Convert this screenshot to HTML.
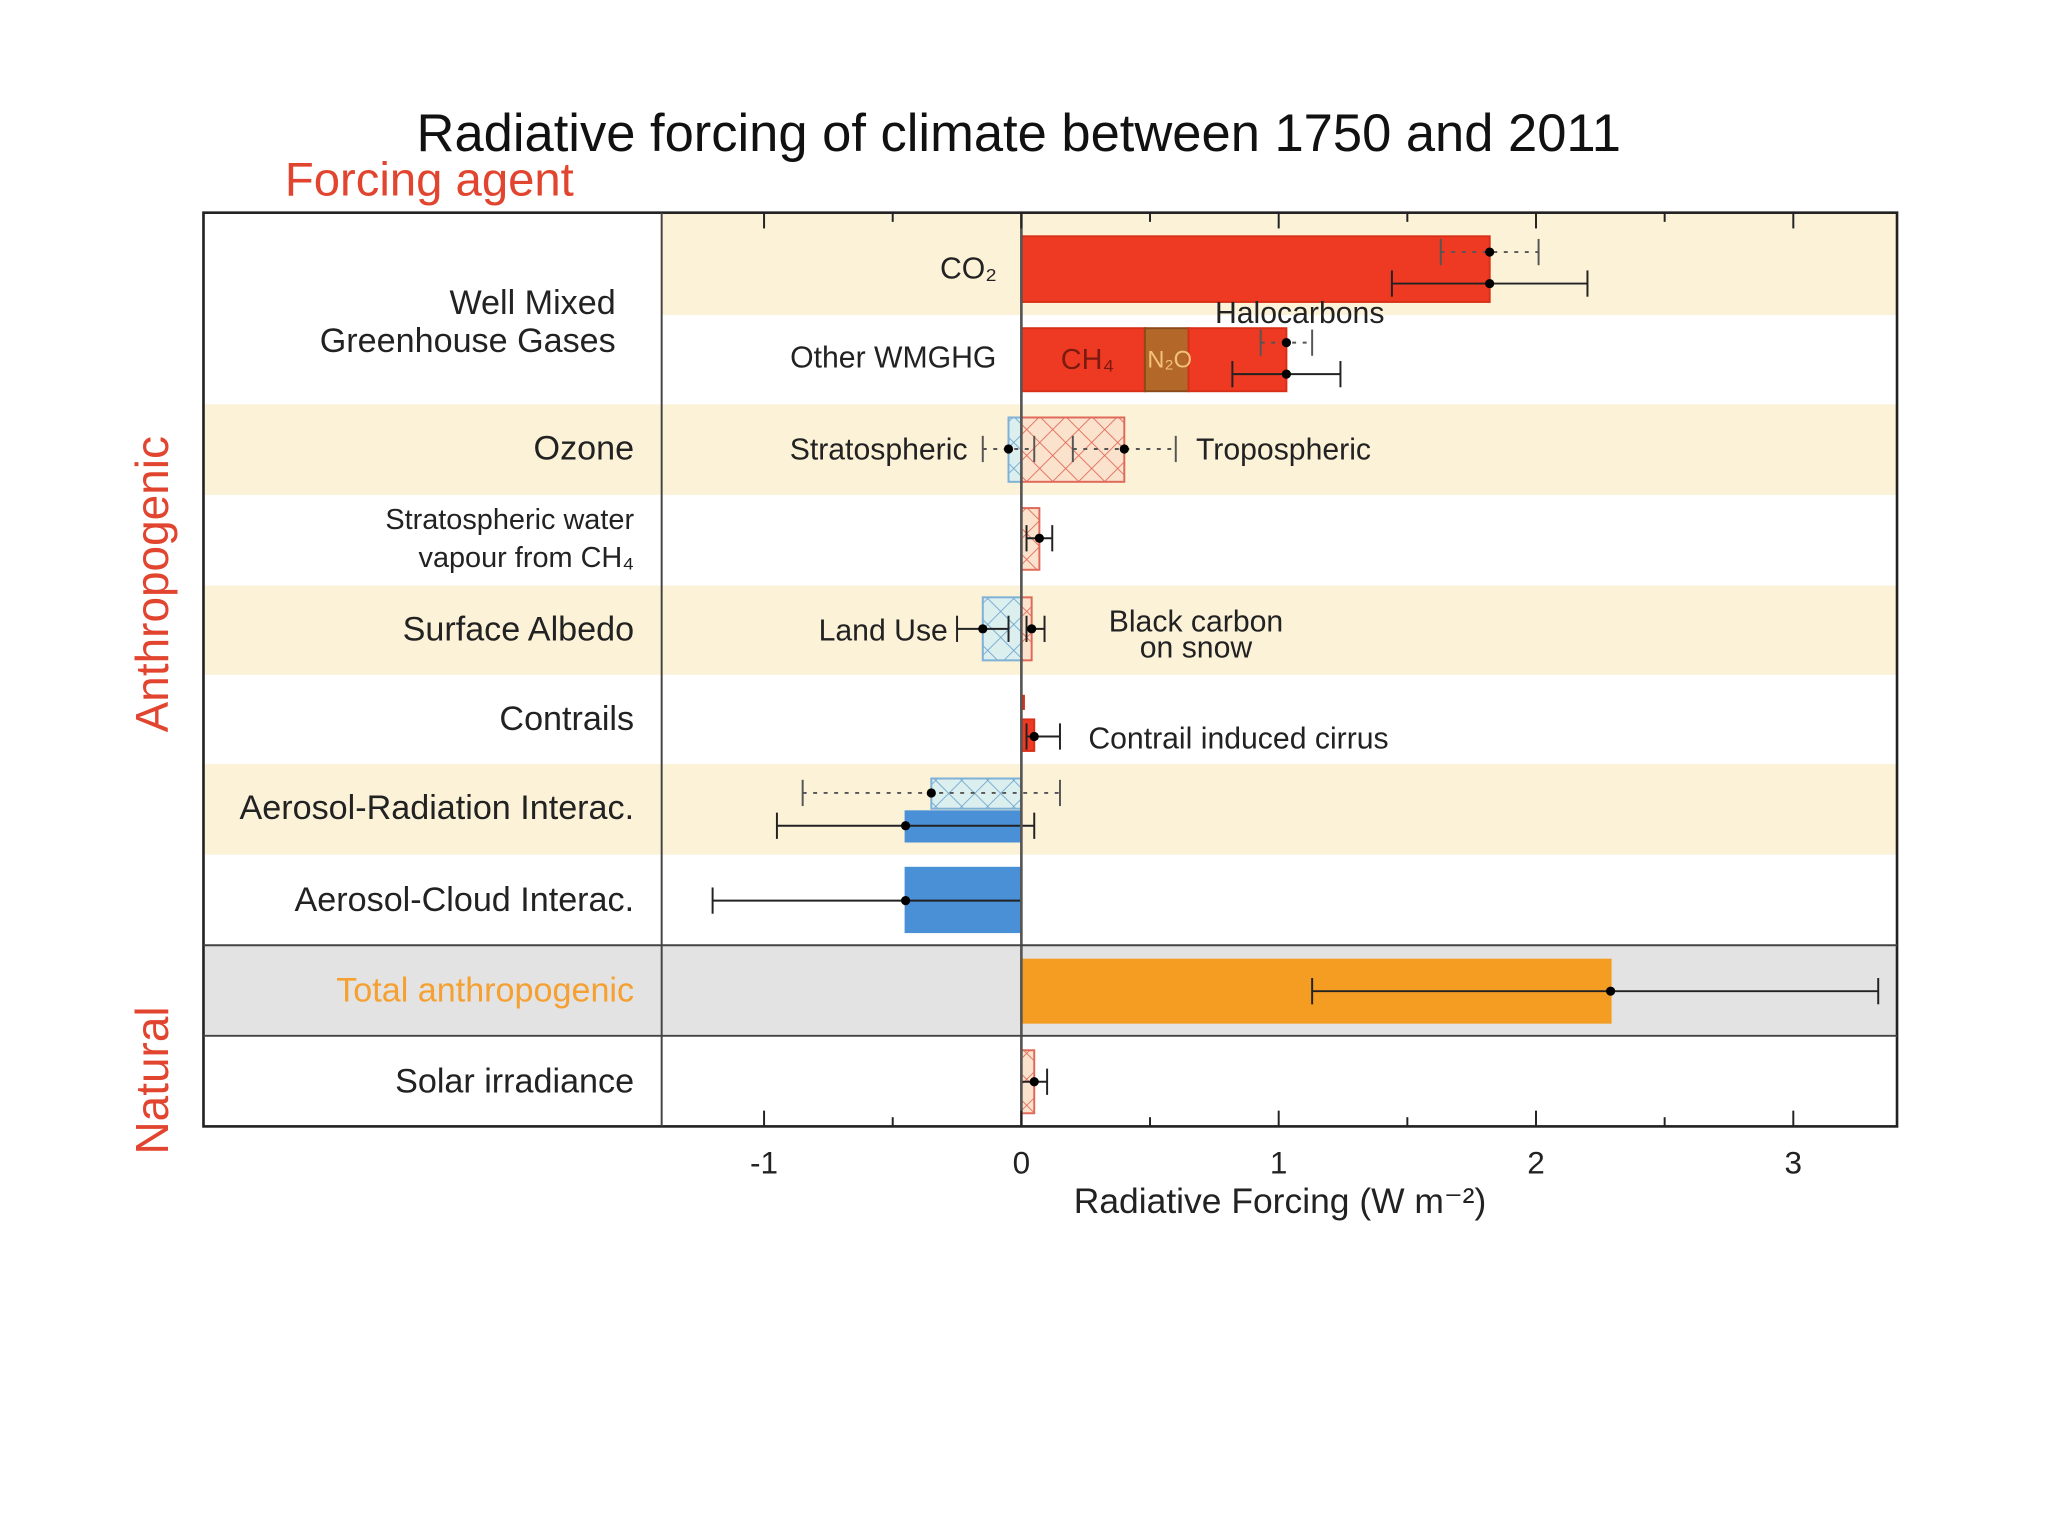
<!DOCTYPE html>
<html><head><meta charset="utf-8"><style>
html,body{margin:0;padding:0;background:#fff;}
svg{display:block;font-family:"Liberation Sans",sans-serif;}
</style></head><body>
<svg id="chart" width="2048" height="1536" viewBox="0 0 1560 1170" preserveAspectRatio="none" xmlns="http://www.w3.org/2000/svg">
<defs>
<pattern id="hred" patternUnits="userSpaceOnUse" width="14" height="14" patternTransform="rotate(45)">
<rect width="14" height="14" fill="#fbe2cc"/><line x1="0" y1="0" x2="0" y2="14" stroke="#e06a5a" stroke-width="1.3"/><line x1="0" y1="0" x2="14" y2="0" stroke="#e06a5a" stroke-width="1.3"/></pattern>
<pattern id="hblue" patternUnits="userSpaceOnUse" width="14" height="14" patternTransform="rotate(45)">
<rect width="14" height="14" fill="#dcefef"/><line x1="0" y1="0" x2="0" y2="14" stroke="#6fa6cf" stroke-width="1.3"/><line x1="0" y1="0" x2="14" y2="0" stroke="#6fa6cf" stroke-width="1.3"/></pattern>
</defs>
<g id="bands"></g>
<g id="bars"></g>
<g id="errs"></g>
<g id="frame"></g>
<g id="labels"></g>
</svg>
<script>
const NS='http://www.w3.org/2000/svg';
const svg=document.getElementById('chart');
// data
const rowLabels=['Well Mixed|Greenhouse Gases','Ozone','Stratospheric water|vapour from CH₄','Surface Albedo','Contrails','Aerosol-Radiation Interac.','Aerosol-Cloud Interac.','Total anthropogenic','Solar irradiance'];
const barNames=['CO2','CH4','N2O','Halocarbons','Strat ozone','Trop ozone','Strat water','Land use','Black carbon','Contrails','Contrail cirrus','Aerosol-rad (hatched)','Aerosol-rad','Aerosol-cloud','Total','Solar'];
const barStart=[0,0,0.48,0.65,0,0,0,0,0,0,0,0,0,0,0,0];
const barEnd=[1.82,0.48,0.65,1.03,-0.05,0.40,0.07,-0.15,0.04,0.01,0.05,-0.35,-0.45,-0.45,2.29,0.05];
const barTop=[180,250,250,250,318,318,387,455,455,530,548,593,618,661,731,800];
const barBot=[230,298,298,298,367,367,434,503,503,540,572,616,641,710,779,848];
const barStyle=['red','red','n2o','red','hblue','hred','hred','hblue','hred','red','red','hblue','blue','blue','orange','hred'];
const errBest=[1.82,1.82,1.03,1.03,-0.05,0.40,0.07,-0.15,0.04,0.05,-0.35,-0.45,-0.45,2.29,0.05];
const errLow=[1.63,1.44,0.93,0.82,-0.15,0.20,0.02,-0.25,0.02,0.02,-0.85,-0.95,-1.2,1.13,0.00];
const errHigh=[2.01,2.20,1.13,1.24,0.05,0.60,0.12,-0.05,0.09,0.15,0.15,0.05,0.0,3.33,0.10];
const errY=[192,216,261,285,342,342,410,479,479,561,604,629,686,755,824];
const errDotted=[1,0,1,0,1,1,0,0,0,0,1,0,0,0,0];
const tickLabels=['-1','0','1','2','3'];
const tickValues=[-1,0,1,2,3];
const minorTicks=[-1,-0.5,0,0.5,1,1.5,2,2.5,3];

const X=v=>778+v*196;
function el(tag,a,parent,txt){const e=document.createElementNS(NS,tag);for(const k in a)e.setAttribute(k,a[k]);if(txt!==undefined)e.textContent=txt;(parent||svg).appendChild(e);return e;}
const L=155,R=1445,T=162,B=858,D=504;
const bands=document.getElementById('bands');
const bandDefs=[[D,162,240,'#fbf2d8'],[156,308,377,'#fbf2d8'],[156,446,514,'#fbf2d8'],[156,582,651,'#fbf2d8'],[156,720,789,'#e3e3e3']];
bandDefs.forEach(b=>{const r=el('rect',{x:b[0],y:b[1],width:R-b[0],height:b[2]-b[1],fill:b[3]},bands);

});
const bars=document.getElementById('bars');
const fills={red:'#ee3a22',n2o:'#b3682a',hred:'url(#hred)',hblue:'url(#hblue)',blue:'#4a90d6',orange:'#f49d22'};
const strokes={red:'#d83018',n2o:'#8a4a1a',hred:'#e06a5a',hblue:'#7fb0d6',blue:'#4a90d6',orange:'#f49d22'};
barNames.forEach((n,i)=>{const x0=X(Math.min(barStart[i],barEnd[i])),x1=X(Math.max(barStart[i],barEnd[i]));
const r=el('rect',{x:x0,y:barTop[i],width:x1-x0,height:barBot[i]-barTop[i],fill:fills[barStyle[i]],stroke:strokes[barStyle[i]],'stroke-width':1.5},bars);

});
const errs=document.getElementById('errs');
errBest.forEach((b,i)=>{const y=errY[i],c=errDotted[i]?'#555':'#222';
const g=el('g',{},errs);


el('line',{x1:X(errLow[i]),x2:X(errHigh[i]),y1:y,y2:y,stroke:c,'stroke-width':1.5,'stroke-dasharray':errDotted[i]?'3,5':'none'},g);
[errLow[i],errHigh[i]].forEach(v=>el('line',{x1:X(v),x2:X(v),y1:y-10,y2:y+10,stroke:c,'stroke-width':1.5},g));
el('circle',{cx:X(b),cy:y,r:3.5,fill:'#000'},g);});
const fr=document.getElementById('frame');
el('line',{x1:X(0),x2:X(0),y1:T,y2:B,stroke:'#555','stroke-width':2},fr);
el('rect',{x:L,y:T,width:R-L,height:B-T,fill:'none',stroke:'#222','stroke-width':2},fr);
el('line',{x1:D,x2:D,y1:T,y2:B,stroke:'#444','stroke-width':1.5},fr);
el('line',{x1:L,x2:R,y1:720,y2:720,stroke:'#444','stroke-width':1.5},fr);
el('line',{x1:L,x2:R,y1:789,y2:789,stroke:'#444','stroke-width':1.5},fr);
minorTicks.forEach(v=>{const len=Number.isInteger(v)?12:7;
el('line',{x1:X(v),x2:X(v),y1:T,y2:T+len,stroke:'#222','stroke-width':1.5},fr);
el('line',{x1:X(v),x2:X(v),y1:B,y2:B-len,stroke:'#222','stroke-width':1.5},fr);});
tickValues.forEach((v,i)=>{const t=el('text',{x:X(v),y:894,'font-size':24,'text-anchor':'middle',fill:'#222'},fr,tickLabels[i]);

});
const lb=document.getElementById('labels');
function txt(x,y,s,size,anchor,fill,name){const t=el('text',{x:x,y:y,'font-size':size,'text-anchor':anchor||'start',fill:fill||'#222'},lb,s);

return t;}
txt(776,115,'Radiative forcing of climate between 1750 and 2011',40,'middle','#111','chart-title');
txt(217,149,'Forcing agent',36,'start','#e2452f','forcing-agent-heading');
txt(975,924,'Radiative Forcing (W m⁻²)',27,'middle','#222','x-axis-title');
const rowY=[[239,268],[350],[403,432],[488],[556],[624],[694],[763],[832]];
rowLabels.forEach((s,i)=>{const parts=s.split('|');parts.forEach((p,j)=>{
const sz=i==2?22:26;const x=i==0?469:483;
txt(x,rowY[i][j],p,sz,'end',i==7?'#f5a030':'#222','row-label');});});
const va=txt(128,445,'Anthropogenic',35,'middle','#e2452f','anthropogenic-label');va.setAttribute('transform','rotate(-90 128 445)');
const vn=txt(128,823,'Natural',35,'middle','#e2452f','natural-label');vn.setAttribute('transform','rotate(-90 128 823)');
txt(716,212,'CO₂',23,'start','#222','co2-label');
txt(759,280,'Other WMGHG',23,'end','#222','other-wmghg-label');
txt(990,246,'Halocarbons',23,'middle','#222','halocarbons-label');
txt(808,281,'CH₄',22,'start','#7a1a10','ch4-label');
txt(891,280,'N₂O',18,'middle','#f2c27a','n2o-label');
txt(737,350,'Stratospheric',23,'end','#222','stratospheric-label');
txt(911,350,'Tropospheric',23,'start','#222','tropospheric-label');
txt(722,488,'Land Use',23,'end','#222','land-use-label');
txt(911,481,'Black carbon',23,'middle','#222','black-carbon-label');
txt(911,501,'on snow',23,'middle','#222','on-snow-label');
txt(829,570,'Contrail induced cirrus',23,'start','#222','contrail-cirrus-label');
</script>
</body></html>
